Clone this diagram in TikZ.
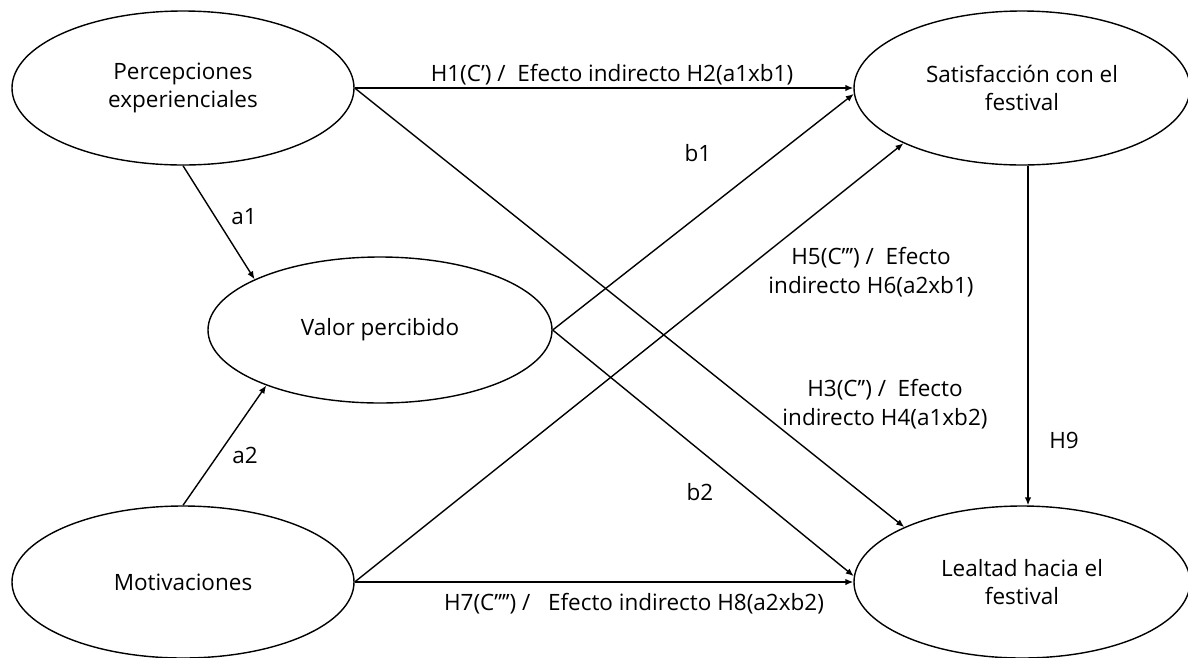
\documentclass[tikz,border=0pt]{standalone}
\usepackage{fontspec}
\setmainfont{Open Sans}
\usetikzlibrary{shapes.geometric,arrows.meta}
\begin{document}
\begin{tikzpicture}[x=1pt,y=-1pt,
  ell/.style={draw,ellipse,line width=1.4pt,inner sep=0pt,align=center,font=\fontsize{22.5}{28}\selectfont},
  arr/.style={-{Latex[length=8pt,width=6.5pt]},line width=1.4pt},
  lbl/.style={font=\fontsize{22.5}{29}\selectfont,align=center,inner sep=0pt}]
\useasboundingbox (0,0) rectangle (1188,657);
\node[ell,minimum width=342pt,minimum height=154pt] (P) at (183,88) {Percepciones\\experienciales};
\node[ell,minimum width=336pt,minimum height=154pt] (S) at (1022,88) {Satisfacción con el\\festival};
\node[ell,minimum width=344pt,minimum height=146pt] (V) at (380,330) {Valor percibido};
\node[ell,minimum width=342pt,minimum height=152pt] (M) at (183,582) {Motivaciones};
\node[ell,minimum width=336pt,minimum height=152pt] (L) at (1022,582) {Lealtad hacia el\\festival};

\draw[arr] (P.east) -- (S.west);
\draw[arr] (P.east) -- (L.155);
\draw[arr] (V.east) -- (S.182);
\draw[arr] (V.east) -- (L.178);
\draw[arr] (M.east) -- (S.205);
\draw[arr] (M.east) -- (L.west);
\draw[arr] (P.south) -- (V.158);
\draw[arr] (M.north) -- (V.206);
\draw[arr] ([xshift=6pt]S.south) -- ([xshift=6pt]L.north);

\node[lbl] (h1) at (612,75) {H1(C’) /\ \ Efecto indirecto H2(a1xb1)};
\node[lbl] (b1) at (698,153) {b1};
\node[lbl] (a1) at (244,217) {a1};
\node[lbl] (a2) at (245,455) {a2};
\node[lbl] (h5) at (871,272) {H5(C’’’) /\ \ Efecto\\indirecto H6(a2xb1)};
\node[lbl] (h3) at (885,404) {H3(C’’) /\ \ Efecto\\indirecto H4(a1xb2)};
\node[lbl] (b2) at (700,492) {b2};
\node[lbl] (h7) at (634,604) {H7(C’’’’) /\ \ \ Efecto indirecto H8(a2xb2)};
\node[lbl] (h9) at (1064,440) {H9};
\end{tikzpicture}
\end{document}
